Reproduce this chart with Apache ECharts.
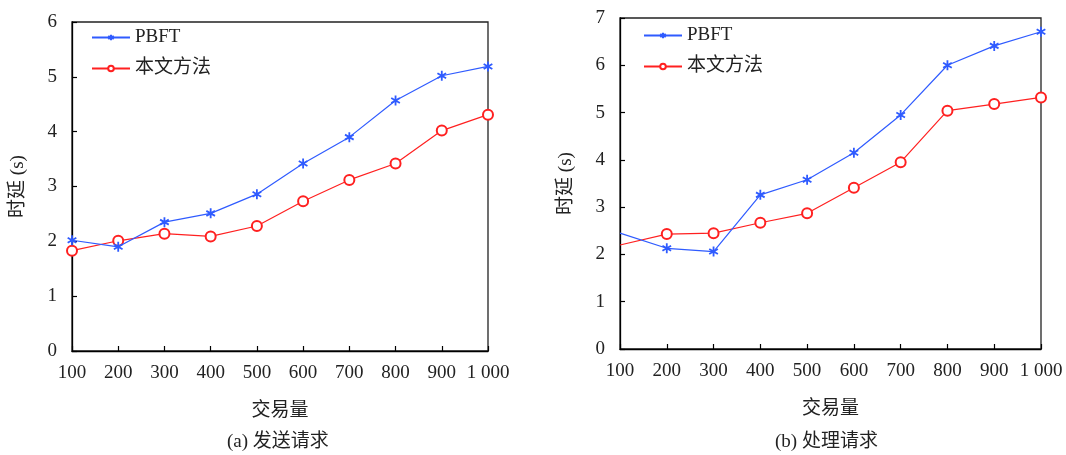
<!DOCTYPE html>
<html>
<head>
<meta charset="utf-8">
<script src="https://cdn.jsdelivr.net/npm/echarts@6/dist/echarts.min.js"></script>
<style>
  html, body { margin: 0; padding: 0; background: #fff; }
  #chart { width: 1066px; height: 455px; }
</style>
</head>
<body>
<div id="chart"></div>
<script>
// Transaction counts on the x axis
const txCounts = ['100', '200', '300', '400', '500', '600', '700', '800', '900', '1 000'];

// (a) latency of sending requests (s)
const sendPbft = [2.02, 1.90, 2.35, 2.51, 2.86, 3.42, 3.90, 4.57, 5.02, 5.19];
const sendOurs = [1.83, 2.01, 2.14, 2.09, 2.28, 2.73, 3.12, 3.42, 4.02, 4.31];

// (b) latency of processing requests (s)
const procPbft = [2.45, 2.13, 2.06, 3.26, 3.58, 4.15, 4.95, 6.00, 6.41, 6.71];
const procOurs = [2.20, 2.43, 2.45, 2.67, 2.87, 3.41, 3.95, 5.04, 5.18, 5.32];

const seriesNames = ['PBFT', '本文方法'];
const panelCaptions = ['(a) 发送请求', '(b) 处理请求'];
const xName = '交易量';
const yName = '时延 (s)';

const FONT = '"Liberation Serif", "Times New Roman", "Noto Sans CJK SC", serif';
const BLUE = '#2f5bff';
const RED = '#ff2020';
const STAR = 'path://M5 0L5 10M0.67 2.5L9.33 7.5M0.67 7.5L9.33 2.5';

const grids = [
  { left: 72, top: 22, width: 416, height: 329 },
  { left: 620, top: 18, width: 421, height: 331 }
];

function xAxisFor(i) {
  return {
    gridIndex: i, type: 'category', data: txCounts, boundaryGap: false,
    name: xName, nameLocation: 'middle', nameGap: 51,
    nameTextStyle: { fontFamily: FONT, fontSize: 19, color: '#222' },
    axisLine: { lineStyle: { color: '#000', width: 1.3 } },
    axisTick: { inside: true, length: 5, interval: 0, lineStyle: { color: '#000', width: 1.2 } },
    axisLabel: { fontFamily: FONT, fontSize: 19, color: '#222', margin: 13, interval: 0, hideOverlap: false },
    splitLine: { show: false }
  };
}

function yAxisFor(i, max) {
  return {
    gridIndex: i, type: 'value', min: 0, max: max, interval: 1,
    name: yName, nameLocation: 'middle', nameGap: 44, nameRotate: 90,
    nameTextStyle: { fontFamily: FONT, fontSize: 19, color: '#222' },
    axisLine: { show: true, lineStyle: { color: '#000', width: 1.3 } },
    axisTick: { show: true, inside: true, length: 5, lineStyle: { color: '#000', width: 1.2 } },
    axisLabel: { fontFamily: FONT, fontSize: 19, color: '#222', margin: 15 },
    splitLine: { show: false }
  };
}

// On panel (b) the first points sit on the axis without a marker
function points(values, hideFirst) {
  return values.map((v, k) => (hideFirst && k === 0) ? { value: v, symbol: 'none' } : v);
}

function lineSeries(i, name, values, hideFirst) {
  const isPbft = name === seriesNames[0];
  const color = isPbft ? BLUE : RED;
  return {
    name: name, type: 'line', xAxisIndex: i, yAxisIndex: i,
    data: points(values, hideFirst),
    symbol: isPbft ? STAR : 'emptyCircle',
    symbolKeepAspect: true,
    symbolSize: 10,
    showAllSymbol: true,
    clip: false,
    lineStyle: { color: color, width: 1.2 },
    itemStyle: isPbft
      ? { color: color, borderColor: color, borderWidth: 1.8 }
      : { color: color, borderColor: color, borderWidth: 1.2 },
    emphasis: { disabled: true },
    z: isPbft ? 3 : 2
  };
}

function legendFor(left, top) {
  return {
    data: seriesNames, orient: 'vertical', left: left, top: top,
    itemWidth: 38, itemHeight: 7, itemGap: 12,
    textStyle: { fontFamily: FONT, fontSize: 19, color: '#222' },
    padding: 0
  };
}

const chart = echarts.init(document.getElementById('chart'), null, { renderer: 'canvas' });
chart.setOption({
  animation: false,
  backgroundColor: '#fff',
  grid: grids.map(g => Object.assign({ show: true, borderColor: '#222', borderWidth: 1.3, backgroundColor: 'transparent', containLabel: false }, g)),
  xAxis: [xAxisFor(0), xAxisFor(1)],
  yAxis: [yAxisFor(0, 6), yAxisFor(1, 7)],
  legend: [legendFor(91, 28), legendFor(643, 26)],
  series: [
    lineSeries(0, seriesNames[0], sendPbft, false),
    lineSeries(0, seriesNames[1], sendOurs, false),
    lineSeries(1, seriesNames[0], procPbft, true),
    lineSeries(1, seriesNames[1], procOurs, true)
  ],
  graphic: [
    { type: 'text', left: 227, top: 433, style: { text: panelCaptions[0], font: '19px ' + FONT, fill: '#222' } },
    { type: 'text', left: 775, top: 433, style: { text: panelCaptions[1], font: '19px ' + FONT, fill: '#222' } }
  ]
});
</script>
</body>
</html>
